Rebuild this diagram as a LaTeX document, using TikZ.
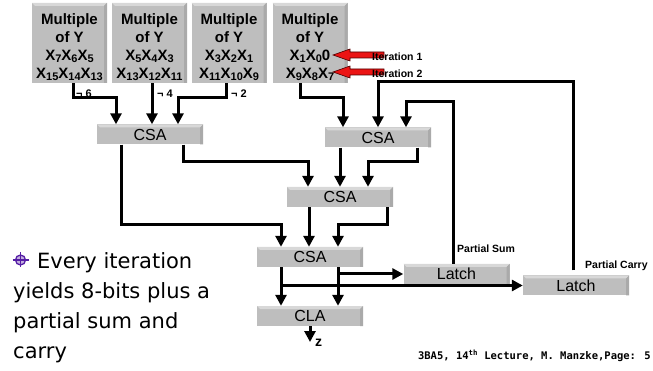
\documentclass[tikz,border=0pt]{standalone}
\usepackage{fontspec}
\setmainfont{Liberation Sans}
\newfontfamily\bodyfont{DejaVu Sans}
\newfontfamily\footfont{DejaVu Sans Mono}
\usepackage{xcolor}
\usepackage{tikz}
\usetikzlibrary{arrows.meta}
\definecolor{boxgray}{RGB}{190,190,190}
\definecolor{boxlight}{RGB}{216,216,216}
\definecolor{boxdark}{RGB}{170,170,170}
\definecolor{bulletviolet}{RGB}{85,30,165}
\definecolor{arrowred}{RGB}{235,20,20}
\newcommand{\xsub}[1]{\raisebox{-0.35ex}{\fontsize{11}{11}\selectfont #1}}

\begin{document}
\begin{tikzpicture}[x=1pt, y=-1pt, every node/.style={inner sep=0pt}]
  \tikzstyle{bevel} = [path picture={
      \fill[boxlight] (path picture bounding box.north west) -- (path picture bounding box.north east)
        -- ([xshift=-3pt,yshift=-3pt]path picture bounding box.north east)
        -- ([xshift=3pt,yshift=-3pt]path picture bounding box.north west) -- cycle;
      \fill[boxdark] (path picture bounding box.north east) -- (path picture bounding box.south east)
        -- ([xshift=-3pt]path picture bounding box.south east)
        -- ([xshift=-3pt,yshift=-3pt]path picture bounding box.north east) -- cycle;}]
  \tikzstyle{mulbox} = [rectangle, fill=boxgray, bevel, minimum width=75pt, minimum height=80pt,
                        align=center, font=\fontsize{15}{18}\selectfont\bfseries]
  \tikzstyle{unit} = [rectangle, fill=boxgray, bevel, minimum width=106pt, minimum height=20pt,
                      font=\fontsize{16}{16}\selectfont]
  \tikzstyle{conn} = [line width=3pt, -{Triangle[width=11pt,length=11pt]}]
  \tikzstyle{tag} = [font=\fontsize{10.5}{12}\selectfont\bfseries]
  \tikzstyle{itarrow} = [fill=arrowred, draw=red!30!black, line width=0.6pt, line join=miter]
  \useasboundingbox (0,0) rectangle (653,371);
  \node (mul1) [mulbox] at (69.5,43) {\rule{0pt}{19pt}Multiple\\of Y\\X\xsub{7}X\xsub{6}X\xsub{5}\\X\xsub{15}X\xsub{14}X\xsub{13}};
  \node (mul2) [mulbox] at (149.5,43) {\rule{0pt}{19pt}Multiple\\of Y\\X\xsub{5}X\xsub{4}X\xsub{3}\\X\xsub{13}X\xsub{12}X\xsub{11}};
  \node (mul3) [mulbox] at (229,43) {\rule{0pt}{19pt}Multiple\\of Y\\X\xsub{3}X\xsub{2}X\xsub{1}\\X\xsub{11}X\xsub{10}X\xsub{9}};
  \node (mul4) [mulbox] at (310,43) {\rule{0pt}{19pt}Multiple\\of Y\\X\xsub{1}X\xsub{0}0\\X\xsub{9}X\xsub{8}X\xsub{7}};
  \node (csa1) [unit] at (150,134.5) {CSA};
  \node (csa2) [unit] at (378,137.5) {CSA};
  \node (csa3) [unit] at (340,197) {CSA};
  \node (csa4) [unit] at (310,257) {CSA};
  \node (cla) [unit] at (310,316) {CLA};
  \node (latch1) [unit] at (456.5,274) {Latch};
  \node (latch2) [unit] at (576,285.5) {Latch};
  \coordinate (tip1) at (333,55);
  \coordinate (tip2) at (333,72);
  \filldraw[itarrow] (tip1) -- ++(17,-6) -- ++(0,3) -- ++(34,0) -- ++(0,6) -- ++(-34,0) -- ++(0,3) -- cycle;
  \filldraw[itarrow] (tip2) -- ++(17,-6) -- ++(0,3) -- ++(34,0) -- ++(0,6) -- ++(-34,0) -- ++(0,3) -- cycle;
  \node (not6) [tag, font=\fontsize{11}{12}\selectfont\bfseries, anchor=west] at (76,94) {¬ 6};
  \node (not4) [tag, font=\fontsize{11}{12}\selectfont\bfseries, anchor=west] at (157,94) {¬ 4};
  \node (not2) [tag, font=\fontsize{11}{12}\selectfont\bfseries, anchor=west] at (231,94) {¬ 2};
  \node (iter1) [tag, anchor=west] at (372,57) {Iteration 1};
  \node (iter2) [tag, anchor=west] at (372,74) {Iteration 2};
  \node (psum) [tag, anchor=west] at (457,249) {Partial Sum};
  \node (pcarry) [tag, anchor=west] at (585,266) {Partial Carry};
  \node (zlab) [font=\fontsize{14}{14}\selectfont\bfseries, anchor=west] at (315,343) {z};
  \node (body) [font=\bodyfont\fontsize{21}{30}\selectfont, align=left, anchor=north west] at (13,252)
    {\hspace*{24pt}Every iteration\\yields 8-bits plus a\\partial sum and\\carry};
  \node (foot) [font=\footfont\fontsize{10.5}{12}\selectfont\bfseries, anchor=east] at (651,356)
    {3BA5, 14\textsuperscript{th} Lecture, M. Manzke,Page: 5};
  \draw[bulletviolet, fill=bulletviolet!35, line width=1.3pt] (20.5,260) circle[radius=5pt];
  \draw[bulletviolet, line width=1.3pt] (12.5,260) -- (28.5,260) (20.5,252.5) -- (20.5,267.5);
  \coordinate (sumtap) at (338,274);
  \coordinate (carrytap) at (281,285.5);
  \coordinate (zend) at (310,342);
  \draw[conn] (mul1.south -| 73,0) |- (116,98) -- (csa1.north -| 116,0);
  \draw[conn] (mul2.south -| 152,0) -- (csa1.north -| 152,0);
  \draw[conn] (mul3.south -| 226,0) |- (178,98) -- (csa1.north -| 178,0);
  \draw[conn] (mul4.south -| 300,0) |- (343,98) -- (csa2.north -| 343,0);
  \draw[conn, shorten <=5pt] (latch2.north -| 573,0) |- (378,82) -- (csa2.north);
  \draw[conn] (latch1.north -| 453,0) |- (406,102) -- (csa2.north -| 406,0);
  \draw[conn] (csa1.south -| 183,0) |- (308,162) -- (csa3.north -| 308,0);
  \draw[conn] (csa2.south -| 340,0) -- (csa3.north -| 340,0);
  \draw[conn] (csa2.south -| 417,0) |- (368,162) -- (csa3.north -| 368,0);
  \draw[conn] (csa1.south -| 121,0) |- (281,225) -- (csa4.north -| 281,0);
  \draw[conn] (csa3.south -| 309,0) -- (csa4.north -| 309,0);
  \draw[conn] (csa3.south -| 387,0) |- (338,225) -- (csa4.north -| 338,0);
  \draw[conn] (csa4.south -| 281,0) -- (cla.north -| 281,0);
  \draw[conn] (csa4.south -| 338,0) -- (cla.north -| 338,0);
  \draw[conn] (sumtap) -- (latch1.west);
  \draw[conn] (carrytap) -- (latch2.west);
  \draw[conn] (cla.south) -- (zend);
\end{tikzpicture}
\end{document}
